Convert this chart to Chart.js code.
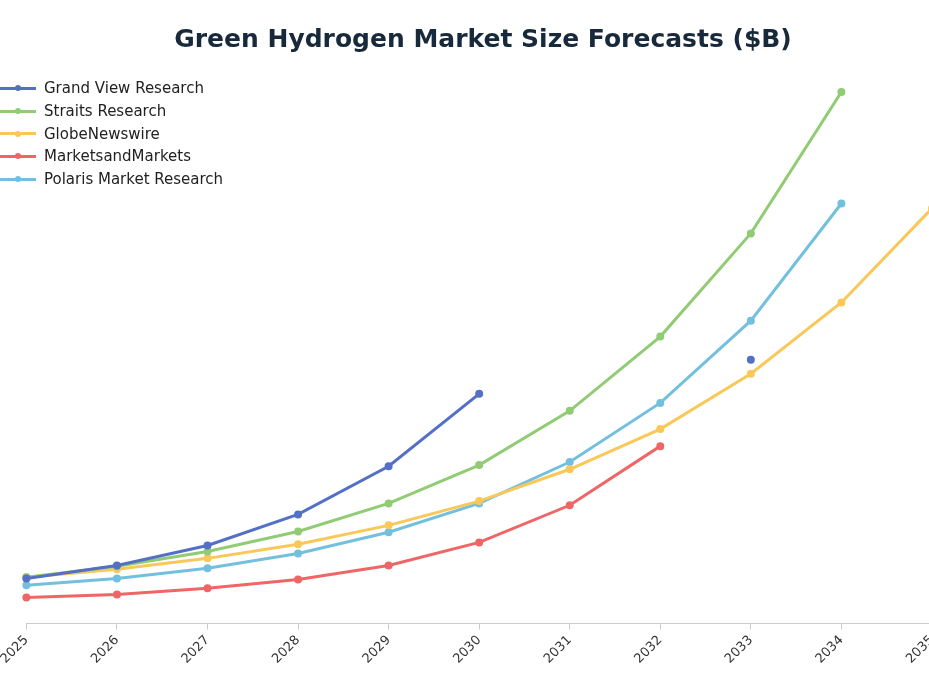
<!DOCTYPE html>
<html><head><meta charset="utf-8">
<script src="https://cdn.jsdelivr.net/npm/chart.js@4"></script>
<style>
html,body{margin:0;padding:0;background:#fff;overflow:hidden;}
#wrap{position:relative;width:929px;height:697px;overflow:hidden;}
#title{position:absolute;left:0;width:966px;top:24px;text-align:center;font-family:"DejaVu Sans",sans-serif;font-weight:bold;font-size:25px;color:#17293a;}
#legend{position:absolute;left:0;top:77px;font-family:"DejaVu Sans",sans-serif;font-size:15px;color:#222;}
#legend div{height:22.7px;display:flex;align-items:center;}
#legend span.sw{display:inline-block;width:36px;height:18px;position:relative;margin-right:8px;}
</style></head>
<body><div id="wrap"><canvas id="c" width="946" height="697"></canvas><div id="title">Green Hydrogen Market Size Forecasts ($B)</div><div id="legend"></div></div>
<script>
const years = ["2025","2026","2027","2028","2029","2030","2031","2032","2033","2034","2035"];
const seriesNames = ["Grand View Research","Straits Research","GlobeNewswire","MarketsandMarkets","Polaris Market Research"];
const grandView = [11.9,15.3,20.6,28.8,41.5,60.6,null,null,69.6,null,null];
const straits = [12.2,15.1,19.0,24.3,31.7,41.8,56.1,75.7,102.9,140.2,null];
const globeNewswire = [12.2,14.3,17.2,20.9,25.9,32.3,40.7,51.3,65.9,84.7,109.5];
const marketsAndMarkets = [6.9,7.7,9.3,11.6,15.3,21.4,31.2,46.8,null,null,null];
const polaris = [10.1,11.9,14.6,18.5,24.1,31.7,42.6,58.2,79.9,110.8,null];
const colors = ["#5470c6","#91cc75","#fac858","#ee6666","#73c0de"];
const data = [grandView,straits,globeNewswire,marketsAndMarkets,polaris];

const lg=document.getElementById('legend');
seriesNames.forEach((n,i)=>{
  const d=document.createElement('div');
  d.innerHTML=`<span class="sw"><span style="position:absolute;left:0;right:0;top:7.5px;height:3px;background:${colors[i]}"></span><span style="position:absolute;left:14.5px;top:6px;width:6px;height:6px;border-radius:50%;background:${colors[i]}"></span></span>${n}`;
  lg.appendChild(d);
});

new Chart(document.getElementById('c'),{
  type:'line',
  data:{labels:years,datasets:data.map((d,i)=>({label:seriesNames[i],data:d,borderColor:colors[i],backgroundColor:colors[i],borderWidth:3,pointRadius:2.5,pointHoverRadius:2.5,tension:0,spanGaps:false}))},
  options:{
    responsive:false,animation:false,
    layout:{padding:{top:70,right:0,left:6,bottom:27}},
    plugins:{legend:{display:false},tooltip:{enabled:false},title:{display:false}},
    scales:{
      x:{offset:false,grid:{drawOnChartArea:false,drawTicks:true,tickLength:6,color:'#ccc'},border:{color:'#ccc'},
        ticks:{maxRotation:45,minRotation:45,color:'#333',font:{family:'"DejaVu Sans"',size:13},autoSkip:false}},
      y:{display:false,min:0,max:146}
    }
  }
});
</script></body></html>
